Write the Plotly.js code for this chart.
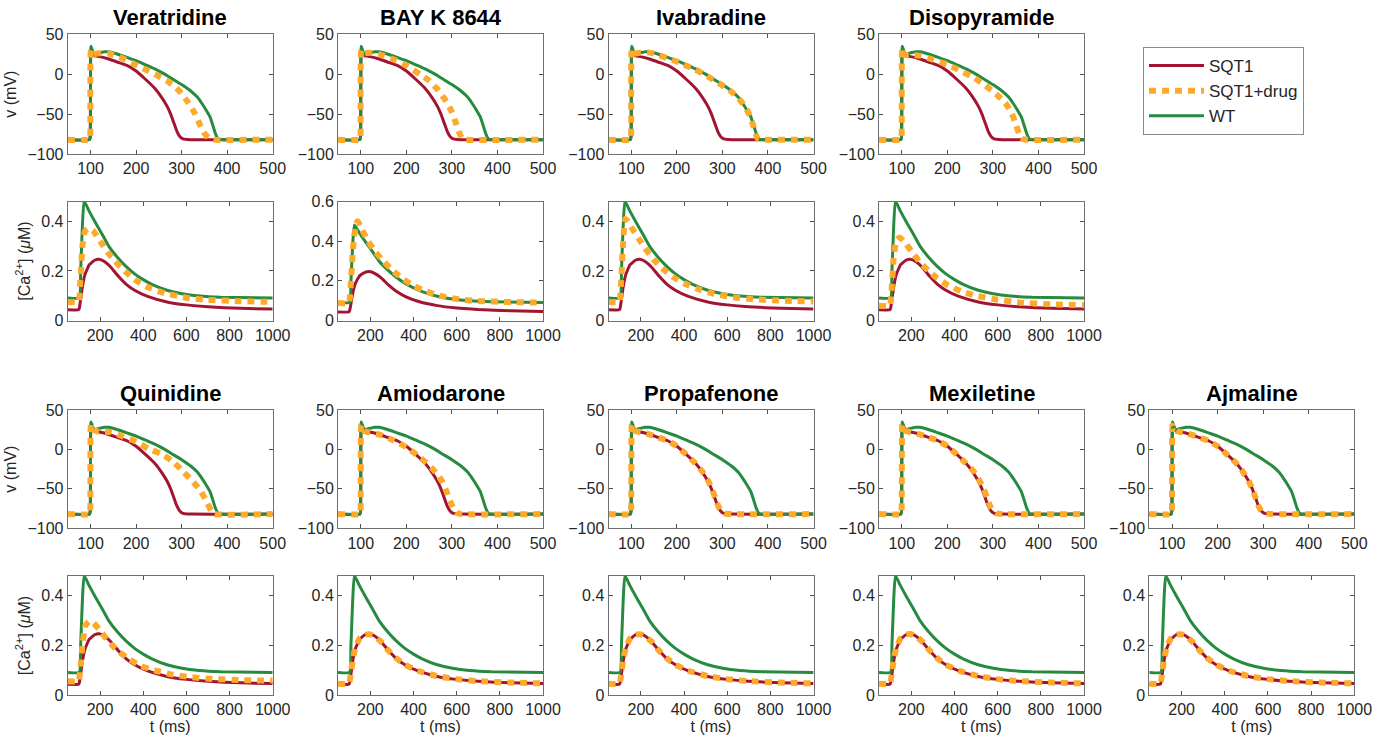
<!DOCTYPE html>
<html>
<head>
<meta charset="utf-8">
<script src="https://cdn.plot.ly/plotly-3.0.1.min.js"></script>
<style>html,body{margin:0;padding:0;background:#fff;}#chart{width:1385px;height:742px;}</style>
</head>
<body>
<div id="chart"></div>
<script>
// ---------------- DATA ----------------
const seriesNames = ['SQT1', 'SQT1+drug', 'WT'];
const drugsTop = ['Veratridine', 'BAY K 8644', 'Ivabradine', 'Disopyramide'];
const drugsBottom = ['Quinidine', 'Amiodarone', 'Propafenone', 'Mexiletine', 'Ajmaline'];

const vTicks = [-100, -50, 0, 50];
const vTimeTicks = [100, 200, 300, 400, 500];
const caTimeTicks = [200, 400, 600, 800, 1000];
const caTicks = [0, 0.2, 0.4];
const caTicksBayK = [0, 0.2, 0.4, 0.6];

// Membrane potential (mV), shared baselines
const tV_sqt1 = [50, 98, 99.5, 101, 104, 110, 120, 140, 160, 180, 200, 220, 240, 255, 268, 276, 283, 290, 296, 303, 320, 500];
const v_sqt1 = [-82, -82, -78, 30, 25, 23, 22, 19, 15, 11, 4, -6, -17, -28, -40, -50, -61, -72, -78, -81, -82, -82];
const tV_wt = [50, 98, 99.5, 101, 104, 108, 115, 130, 140, 160, 180, 200, 220, 240, 260, 280, 300, 320, 335, 345, 355, 362, 368, 374, 380, 386, 500];
const v_wt = [-82, -82, -78, 35, 30, 25, 26, 28, 28, 25, 21, 17, 12, 7, 1, -6, -13, -21, -29, -37, -46, -53, -63, -74, -81, -82, -82];

// Calcium transient (uM), shared baselines
const tCa_sqt1 = [50, 100, 104, 110, 118, 130, 150, 175, 195, 220, 250, 285, 320, 360, 420, 510, 600, 700, 850, 1000];
const ca_sqt1 = [0.043, 0.043, 0.05, 0.085, 0.135, 0.185, 0.225, 0.243, 0.247, 0.238, 0.215, 0.178, 0.147, 0.122, 0.097, 0.075, 0.063, 0.055, 0.049, 0.046];
const tCa_wt = [50, 104, 110, 118, 126, 150, 175, 205, 240, 280, 320, 360, 400, 440, 510, 580, 660, 760, 1000];
const ca_wt = [0.091, 0.091, 0.2, 0.38, 0.482, 0.44, 0.4, 0.355, 0.3, 0.255, 0.218, 0.188, 0.165, 0.146, 0.122, 0.108, 0.099, 0.094, 0.091];

// SQT1+drug, membrane potential
const tV_veratridine = [50, 98, 99.5, 101, 106, 115, 140, 170, 195, 220, 245, 270, 295, 315, 330, 340, 350, 360, 370, 500];
const v_veratridine = [-82, -82, -78, 30, 25, 26, 26, 20, 13, 6, -1, -9, -21, -36, -50, -63, -74, -80, -82, -82];
const tV_bayk = [50, 98, 99.5, 101, 106, 120, 140, 170, 200, 230, 250, 270, 285, 298, 308, 315, 322, 330, 500];
const v_bayk = [-82, -82, -78, 30, 26, 27, 25, 19, 11, 0, -8, -20, -32, -45, -60, -72, -80, -82, -82];
const tV_ivabradine = [50, 98, 99.5, 101, 106, 120, 140, 160, 180, 200, 220, 240, 260, 280, 300, 320, 335, 345, 355, 362, 368, 373, 378, 385, 500];
const v_ivabradine = [-82, -82, -78, 31, 26, 27, 27, 24, 20, 16, 11, 6, 0, -7, -14, -22, -30, -37, -46, -54, -65, -75, -81, -82, -82];
const tV_disopyramide = [50, 98, 99.5, 101, 106, 120, 140, 170, 200, 230, 260, 290, 315, 330, 342, 350, 357, 363, 370, 500];
const v_disopyramide = [-82, -82, -78, 32, 24, 24, 23, 18, 12, 4, -5, -17, -29, -38, -50, -62, -74, -80, -82, -82];
const tV_quinidine = [50, 98, 99.5, 101, 106, 114, 145, 172, 200, 227, 253, 278, 300, 322, 340, 355, 365, 372, 500];
const v_quinidine = [-82, -82, -78, 32, 25, 23, 22, 16, 10, 1, -5, -14, -26, -39, -51, -66, -78, -82, -82];
const tV_amiodarone = [50, 98, 99.5, 101, 106, 115, 140, 170, 200, 230, 255, 270, 280, 288, 296, 303, 310, 320, 500];
const v_amiodarone = [-82, -82, -78, 31, 24, 22, 19, 12, 3, -10, -23, -33, -42, -53, -65, -75, -80, -82, -82];
const tV_propafenone = [50, 98, 99.5, 101, 104, 110, 120, 140, 160, 180, 200, 220, 240, 256, 269, 277, 284, 291, 297, 304, 320, 500];
const v_propafenone = [-82, -82, -78, 31, 25, 23, 22, 19, 15, 11, 4, -6, -17, -28, -40, -50, -61, -72, -78, -81, -82, -82];
const tV_mexiletine = [50, 98, 99.5, 101, 104, 110, 120, 140, 160, 180, 200, 220, 240, 258, 271, 280, 287, 294, 300, 307, 322, 500];
const v_mexiletine = [-82, -82, -78, 31, 25, 23, 22, 19, 15, 11, 4, -6, -17, -28, -40, -50, -61, -72, -78, -81, -82, -82];
const tV_ajmaline = [50, 98, 99.5, 101, 104, 110, 120, 140, 160, 180, 200, 220, 240, 255, 268, 276, 283, 290, 296, 303, 320, 500];
const v_ajmaline = [-82, -82, -78, 30, 25, 23, 22, 19, 15, 11, 4, -6, -17, -28, -40, -50, -61, -72, -78, -81, -82, -82];

// SQT1+drug, calcium
const tCa_veratridine = [50, 100, 108, 118, 130, 150, 170, 200, 240, 280, 320, 360, 420, 500, 600, 700, 850, 1000];
const ca_veratridine = [0.075, 0.075, 0.15, 0.3, 0.36, 0.372, 0.36, 0.32, 0.27, 0.23, 0.195, 0.165, 0.135, 0.11, 0.092, 0.083, 0.078, 0.075];
const tCa_bayk = [50, 100, 110, 122, 135, 142, 160, 190, 220, 260, 300, 350, 400, 450, 520, 600, 700, 850, 1000];
const ca_bayk = [0.088, 0.088, 0.2, 0.4, 0.49, 0.5, 0.46, 0.4, 0.35, 0.3, 0.255, 0.21, 0.175, 0.15, 0.125, 0.108, 0.098, 0.093, 0.09];
const tCa_ivabradine = [50, 100, 108, 118, 128, 140, 160, 190, 220, 260, 300, 350, 400, 460, 530, 620, 720, 850, 1000];
const ca_ivabradine = [0.075, 0.075, 0.15, 0.32, 0.41, 0.4, 0.37, 0.33, 0.29, 0.245, 0.21, 0.175, 0.15, 0.128, 0.11, 0.095, 0.086, 0.08, 0.077];
const tCa_disopyramide = [50, 100, 108, 118, 130, 145, 165, 200, 240, 280, 320, 370, 430, 500, 600, 700, 850, 1000];
const ca_disopyramide = [0.06, 0.06, 0.12, 0.25, 0.32, 0.335, 0.32, 0.28, 0.235, 0.2, 0.17, 0.142, 0.118, 0.1, 0.084, 0.073, 0.065, 0.062];
const tCa_quinidine = [50, 100, 108, 118, 132, 150, 170, 200, 240, 280, 336, 390, 450, 530, 620, 720, 850, 1000];
const ca_quinidine = [0.055, 0.055, 0.1, 0.2, 0.28, 0.297, 0.29, 0.26, 0.215, 0.18, 0.144, 0.117, 0.1, 0.083, 0.072, 0.065, 0.06, 0.058];
const tCa_amiodarone = [50, 100, 104, 110, 118, 130, 150, 175, 195, 220, 250, 285, 320, 360, 420, 510, 600, 700, 850, 1000];
const ca_amiodarone = [0.045, 0.045, 0.055, 0.09, 0.14, 0.19, 0.228, 0.243, 0.245, 0.237, 0.215, 0.178, 0.148, 0.122, 0.098, 0.076, 0.064, 0.056, 0.05, 0.047];
const tCa_propafenone = [50, 100, 104, 110, 118, 130, 150, 175, 195, 220, 250, 285, 320, 360, 420, 510, 600, 700, 850, 1000];
const ca_propafenone = [0.045, 0.045, 0.055, 0.09, 0.14, 0.19, 0.228, 0.243, 0.245, 0.237, 0.215, 0.178, 0.148, 0.122, 0.098, 0.076, 0.064, 0.056, 0.05, 0.047];
const tCa_mexiletine = [50, 100, 104, 110, 118, 130, 150, 175, 195, 220, 250, 285, 320, 360, 420, 510, 600, 700, 850, 1000];
const ca_mexiletine = [0.045, 0.045, 0.055, 0.09, 0.14, 0.19, 0.228, 0.244, 0.246, 0.238, 0.216, 0.179, 0.148, 0.122, 0.098, 0.076, 0.064, 0.056, 0.05, 0.047];
const tCa_ajmaline = [50, 100, 104, 110, 118, 130, 150, 175, 195, 220, 250, 285, 320, 360, 420, 510, 600, 700, 850, 1000];
const ca_ajmaline = [0.045, 0.045, 0.055, 0.09, 0.14, 0.19, 0.228, 0.243, 0.245, 0.237, 0.215, 0.178, 0.148, 0.122, 0.098, 0.076, 0.064, 0.056, 0.05, 0.047];

// ---------------- BUILD ----------------
const drugV = {
  'Veratridine': [tV_veratridine, v_veratridine], 'BAY K 8644': [tV_bayk, v_bayk],
  'Ivabradine': [tV_ivabradine, v_ivabradine], 'Disopyramide': [tV_disopyramide, v_disopyramide],
  'Quinidine': [tV_quinidine, v_quinidine], 'Amiodarone': [tV_amiodarone, v_amiodarone],
  'Propafenone': [tV_propafenone, v_propafenone], 'Mexiletine': [tV_mexiletine, v_mexiletine],
  'Ajmaline': [tV_ajmaline, v_ajmaline]
};
const drugCa = {
  'Veratridine': [tCa_veratridine, ca_veratridine], 'BAY K 8644': [tCa_bayk, ca_bayk],
  'Ivabradine': [tCa_ivabradine, ca_ivabradine], 'Disopyramide': [tCa_disopyramide, ca_disopyramide],
  'Quinidine': [tCa_quinidine, ca_quinidine], 'Amiodarone': [tCa_amiodarone, ca_amiodarone],
  'Propafenone': [tCa_propafenone, ca_propafenone], 'Mexiletine': [tCa_mexiletine, ca_mexiletine],
  'Ajmaline': [tCa_ajmaline, ca_ajmaline]
};

const W = 1385, H = 742;
const RED = '#A2142F', ORANGE = '#FDAA2B', GREEN = '#268B3F';
const FONT = 'Liberation Sans, Arial, Helvetica, sans-serif';
const colLeft = [67.7, 338, 608.5, 879, 1149.3];
const panelW = 205;
const rowsPx = { v1: [34.3, 154], ca1: [201.5, 320.5], v2: [410, 528.3], ca2: [576, 695] };

const traces = [];
const layout = {
  width: W, height: H,
  margin: { l: 0, r: 0, t: 0, b: 0 },
  paper_bgcolor: '#fff', plot_bgcolor: '#fff',
  showlegend: true,
  font: { family: FONT, size: 16, color: '#262626' },
  legend: {
    x: 1143 / W, y: 1 - 47 / H, xanchor: 'left', yanchor: 'top',
    bordercolor: '#8a8a8a', borderwidth: 1, bgcolor: '#fff',
    font: { family: FONT, size: 17, color: '#262626' },
    itemwidth: 55, tracegroupgap: 0
  },
  annotations: []
};

let axN = 0;
function axisBase(domain) {
  return {
    domain: domain, showline: true, mirror: 'ticks', linecolor: '#707070', linewidth: 1,
    ticks: 'inside', ticklen: 4, tickcolor: '#505050', tickwidth: 1,
    showgrid: false, zeroline: false, fixedrange: true,
    tickfont: { family: FONT, size: 16, color: '#262626' }
  };
}
function addPanel(col, rowPx, xr, xt, yr, yt, ytitle, xtitle, series, legend) {
  axN++;
  const xa = axN === 1 ? 'xaxis' : 'xaxis' + axN;
  const ya = axN === 1 ? 'yaxis' : 'yaxis' + axN;
  const xs = axN === 1 ? 'x' : 'x' + axN;
  const ys = axN === 1 ? 'y' : 'y' + axN;
  const xd = [colLeft[col] / W, (colLeft[col] + panelW) / W];
  const yd = [1 - rowPx[1] / H, 1 - rowPx[0] / H];
  layout[xa] = Object.assign(axisBase(xd), { anchor: ys, range: xr, tickvals: xt });
  layout[ya] = Object.assign(axisBase(yd), { anchor: xs, range: yr, tickvals: yt });
  if (ytitle) layout[ya].title = { text: ytitle, font: { family: FONT, size: 16, color: '#262626' }, standoff: 6 };
  if (xtitle) layout[xa].title = { text: xtitle, font: { family: FONT, size: 16, color: '#262626' }, standoff: 3 };
  // draw order: SQT1, WT, then SQT1+drug on top
  const order = [0, 2, 1];
  const styles = [
    { color: RED, width: 3 },
    { color: ORANGE, width: 6, dash: '7px,6px' },
    { color: GREEN, width: 3 }
  ];
  order.forEach(k => {
    traces.push({
      x: series[k][0], y: series[k][1], xaxis: xs, yaxis: ys,
      type: 'scatter', mode: 'lines', name: seriesNames[k],
      line: Object.assign({ shape: 'spline', smoothing: 0.4 }, styles[k]),
      showlegend: legend, legendrank: k + 1, hoverinfo: 'skip'
    });
  });
}
function addTitle(col, yPx, text) {
  layout.annotations.push({
    text: '<b>' + text + '</b>', xref: 'paper', yref: 'paper',
    x: (colLeft[col] + panelW / 2) / W, y: 1 - yPx / H, xanchor: 'center', yanchor: 'middle',
    showarrow: false, font: { family: FONT, size: 22, color: '#000' }
  });
}

const caTitle = '[Ca<sup>2+</sup>] (<i>μ</i>M)';
drugsTop.forEach((d, i) => {
  addTitle(i, 18, d);
  addPanel(i, rowsPx.v1, [50, 500], vTimeTicks, [-100, 50], vTicks, i === 0 ? 'v (mV)' : null, null,
    [[tV_sqt1, v_sqt1], drugV[d], [tV_wt, v_wt]], i === 0);
});
drugsTop.forEach((d, i) => {
  const bay = d === 'BAY K 8644';
  addPanel(i, rowsPx.ca1, [50, 1000], caTimeTicks, bay ? [0, 0.6] : [0, 0.48], bay ? caTicksBayK : caTicks,
    i === 0 ? caTitle : null, null, [[tCa_sqt1, ca_sqt1], drugCa[d], [tCa_wt, ca_wt]], false);
});
drugsBottom.forEach((d, i) => {
  addTitle(i, 393, d);
  addPanel(i, rowsPx.v2, [50, 500], vTimeTicks, [-100, 50], vTicks, i === 0 ? 'v (mV)' : null, null,
    [[tV_sqt1, v_sqt1], drugV[d], [tV_wt, v_wt]], false);
});
drugsBottom.forEach((d, i) => {
  addPanel(i, rowsPx.ca2, [50, 1000], caTimeTicks, [0, 0.48], caTicks,
    i === 0 ? caTitle : null, 't (ms)', [[tCa_sqt1, ca_sqt1], drugCa[d], [tCa_wt, ca_wt]], false);
});

Plotly.newPlot('chart', traces, layout, { staticPlot: true, displayModeBar: false });
</script>
</body>
</html>
